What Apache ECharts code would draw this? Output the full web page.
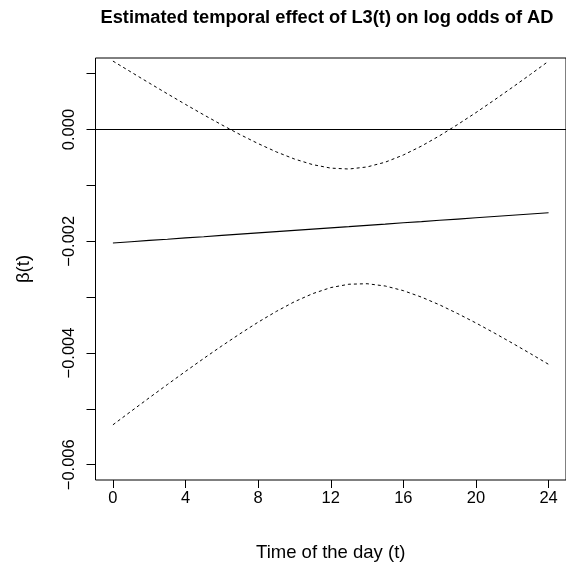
<!DOCTYPE html>
<html>
<head>
<meta charset="utf-8">
<script src="https://cdn.jsdelivr.net/npm/echarts@6/dist/echarts.min.js"></script>
<style>
html,body{margin:0;padding:0;background:#fff;}
#chart{width:566px;height:567px;}
</style>
</head>
<body>
<div id="chart"></div>
<script>
const hours = [0,1,2,3,4,5,6,7,8,9,10,11,12,13,14,15,16,17,18,19,20,21,22,23,24];
const betaEstimate = [-0.002030,-0.002008,-0.001985,-0.001963,-0.001940,-0.001918,-0.001895,-0.001873,-0.001850,-0.001828,-0.001805,-0.001783,-0.001760,-0.001738,-0.001715,-0.001693,-0.001670,-0.001648,-0.001625,-0.001603,-0.001580,-0.001558,-0.001535,-0.001513,-0.001490];
const upperBand = [0.001225,0.001028,0.000832,0.000639,0.000449,0.000263,0.000083,-0.000090,-0.000252,-0.000400,-0.000528,-0.000628,-0.000691,-0.000707,-0.000670,-0.000585,-0.000456,-0.000296,-0.000111,0.000091,0.000303,0.000525,0.000753,0.000986,0.001223];
const lowerBand = [-0.005285,-0.005043,-0.004802,-0.004564,-0.004329,-0.004098,-0.003873,-0.003656,-0.003448,-0.003256,-0.003082,-0.002938,-0.002829,-0.002769,-0.002760,-0.002801,-0.002884,-0.003000,-0.003139,-0.003296,-0.003463,-0.003640,-0.003823,-0.004011,-0.004203];
const xTicks = [0,4,8,12,16,20,24];
const yTicks = [-0.006,-0.005,-0.004,-0.003,-0.002,-0.001,0.000,0.001];
const yLabelTicks = [-0.006,-0.004,-0.002,0.000];
const refLine = 0;

const chart = echarts.init(document.getElementById('chart'), null, {renderer:'canvas'});
const pair = arr => hours.map((h,i)=>[h,arr[i]]);
const font = 'Liberation Sans, Arial, Helvetica, sans-serif';

chart.setOption({
  animation:false,
  backgroundColor:'#ffffff',
  title:{
    text:'Estimated temporal effect of L3(t) on log odds of AD',
    left:322, top:4, textAlign:'center',
    textStyle:{fontFamily:font,fontSize:18.3,fontWeight:'bold',color:'#000'}
  },
  grid:{left:95.5, top:58, width:475, height:422, show:true, borderColor:'#000', borderWidth:1, backgroundColor:'transparent'},
  xAxis:{
    type:'value', min:-0.96, max:24.96,
    axisLine:{show:false, onZero:false},
    splitLine:{show:false},
    axisTick:{show:true, inside:false, length:8, customValues:xTicks, lineStyle:{color:'#000',width:1}},
    axisLabel:{show:true, customValues:xTicks, margin:10, fontFamily:font, fontSize:16.5, color:'#000', formatter: v=>String(v)},
    name:'Time of the day (t)', nameLocation:'middle', nameGap:63,
    nameTextStyle:{fontFamily:font,fontSize:18.5,color:'#000'}
  },
  yAxis:{
    type:'value', min:-0.006273, max:0.00128,
    axisLine:{show:false, onZero:false},
    splitLine:{show:false},
    axisTick:{show:true, inside:false, length:9, customValues:yTicks, lineStyle:{color:'#000',width:1}},
    axisLabel:{show:true, customValues:yLabelTicks, rotate:90, margin:18, fontFamily:font, fontSize:16.5, color:'#000',
      formatter: v=>(v<0?'\u2212':'')+Math.abs(v).toFixed(3)},
    name:'\u03b2(t)', nameLocation:'middle', nameGap:62, nameRotate:90,
    nameTextStyle:{fontFamily:font,fontSize:18.5,color:'#000'}
  },
  series:[
    {type:'line', data:pair(betaEstimate), showSymbol:false, lineStyle:{color:'#000',width:1.1}, silent:true,
     markLine:{silent:true, symbol:'none', label:{show:false}, lineStyle:{color:'#000',width:1,type:'solid'}, data:[{yAxis:refLine}]}},
    {type:'line', data:pair(upperBand), showSymbol:false, lineStyle:{color:'#000',width:1,type:[3,3]}, silent:true},
    {type:'line', data:pair(lowerBand), showSymbol:false, lineStyle:{color:'#000',width:1,type:[3,3]}, silent:true}
  ]
});
</script>
</body>
</html>
